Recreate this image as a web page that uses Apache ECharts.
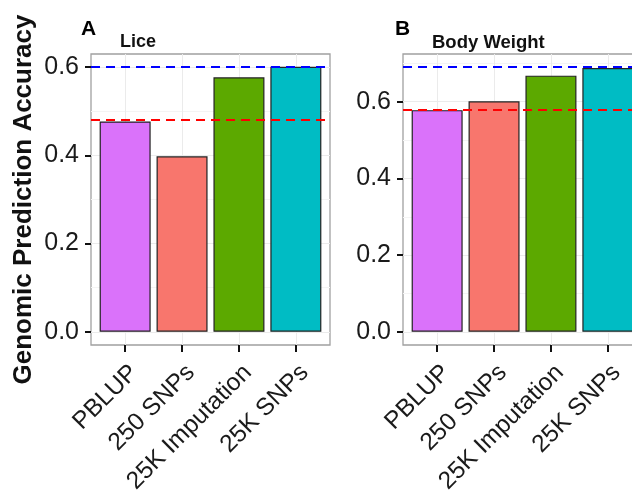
<!DOCTYPE html>
<html>
<head>
<meta charset="utf-8">
<script src="https://cdn.jsdelivr.net/npm/echarts@6/dist/echarts.min.js"></script>
<style>html,body{margin:0;padding:0;background:#fff}#c{width:632px;height:493px}</style>
</head>
<body>
<div id="c"></div>
<script>
const categories = ['PBLUP', '250 SNPs', '25K Imputation', '25K SNPs'];
const liceValues = [0.477, 0.398, 0.577, 0.601];
const bodyWeightValues = [0.578, 0.601, 0.668, 0.688];
const liceRefLines = { red: 0.48, blue: 0.60 };
const bodyRefLines = { red: 0.58, blue: 0.69 };
const yTicks = [0.0, 0.2, 0.4, 0.6];
const yGrid = [0, 0.1, 0.2, 0.3, 0.4, 0.5, 0.6, 0.7];
const barColors = ['#DA72FA', '#F8766D', '#5CA900', '#00BCC4'];

const FONT = 'Liberation Sans, Arial, sans-serif';
const chart = echarts.init(document.getElementById('c'), null, { renderer: 'canvas' });

function xAxis(gridIndex) {
  return {
    type: 'value', gridIndex, min: -0.6, max: 3.6, position: 'bottom',
    axisLine: { show: false, onZero: false },
    splitLine: { show: false },
    axisTick: { show: true, customValues: [0, 1, 2, 3], length: 7, lineStyle: { color: '#111', width: 2 } },
    axisLabel: {
      customValues: [0, 1, 2, 3], rotate: 45, margin: 15, verticalAlign: 'top', fontSize: 24.5, color: '#1a1a1a', fontFamily: FONT,
      formatter: v => categories[Math.round(v)]
    }
  };
}
function yAxis(gridIndex, min, max, extra) {
  return Object.assign({
    type: 'value', gridIndex, min, max, position: 'left',
    axisLine: { show: false, onZero: false },
    splitLine: { show: false },
    axisTick: { show: true, customValues: yTicks, length: 6, lineStyle: { color: '#111', width: 2 } },
    axisLabel: { customValues: yTicks, margin: 12, fontSize: 25, color: '#1a1a1a', fontFamily: FONT, formatter: v => v.toFixed(1) }
  }, extra || {});
}
function gridSeries(idx, ymin, ymax) {
  const lines = [];
  yGrid.filter(v => v <= ymax).forEach((v, i) => lines.push([
    { coord: [-0.6, v], lineStyle: { color: i % 2 ? '#f4f4f4' : '#ebebeb', width: 1, type: 'solid' } },
    { coord: [3.6, v] }
  ]));
  [0, 1, 2, 3].forEach(v => lines.push([
    { coord: [v, ymin], lineStyle: { color: '#ebebeb', width: 1, type: 'solid' } },
    { coord: [v, ymax] }
  ]));
  return {
    type: 'scatter', xAxisIndex: idx, yAxisIndex: idx, data: [], z: 0, silent: true, symbolSize: 0,
    markLine: { z: 0, symbol: ['none', 'none'], silent: true, label: { show: false }, data: lines, animation: false }
  };
}
function barSeries(idx, values, ref) {
  return {
    type: 'bar', xAxisIndex: idx, yAxisIndex: idx, z: 2, barWidth: 51,
    data: values.map((v, i) => ({ value: [i, v], itemStyle: { color: barColors[i] } })),
    itemStyle: { borderColor: '#222', borderWidth: 1.2 },
    markLine: {
      z: 5, symbol: ['none', 'none'], silent: true, label: { show: false }, animation: false,
      data: [
        { yAxis: ref.blue, lineStyle: { color: '#0000FF', width: 2, type: [9, 6] } },
        { yAxis: ref.red, lineStyle: { color: '#FF0000', width: 2, type: [9, 6] } }
      ]
    }
  };
}

chart.setOption({
  animation: false,
  textStyle: { fontFamily: FONT },
  title: [
    { text: 'A', left: 76, top: 14, textStyle: { fontSize: 21, fontWeight: 'bold', color: '#000', fontFamily: FONT } },
    { text: 'Lice', left: 115, top: 28, textStyle: { fontSize: 18, fontWeight: 'bold', color: '#111', fontFamily: FONT } },
    { text: 'B', left: 390, top: 14, textStyle: { fontSize: 21, fontWeight: 'bold', color: '#000', fontFamily: FONT } },
    { text: 'Body Weight', left: 427, top: 28, textStyle: { fontSize: 18.5, fontWeight: 'bold', color: '#111', fontFamily: FONT } }
  ],
  grid: [
    { left: 91, top: 54, width: 239, height: 291, outerBoundsMode: 'none', containLabel: false, show: true, borderColor: '#a0a0a0', borderWidth: 1.3, backgroundColor: '#fff' },
    { left: 403, top: 54, width: 239, height: 291, outerBoundsMode: 'none', containLabel: false, show: true, borderColor: '#a0a0a0', borderWidth: 1.3, backgroundColor: '#fff' }
  ],
  xAxis: [xAxis(0), xAxis(1)],
  yAxis: [
    yAxis(0, -0.03, 0.63, {
      name: 'Genomic Prediction Accuracy', nameLocation: 'middle', nameRotate: 90, nameGap: 54,
      nameTextStyle: { fontSize: 26, fontWeight: 'bold', color: '#111', fontFamily: FONT }
    }),
    yAxis(1, -0.0345, 0.7245)
  ],
  series: [
    gridSeries(0, -0.03, 0.63), gridSeries(1, -0.0345, 0.7245),
    barSeries(0, liceValues, liceRefLines),
    barSeries(1, bodyWeightValues, bodyRefLines)
  ]
});
</script>
</body>
</html>
